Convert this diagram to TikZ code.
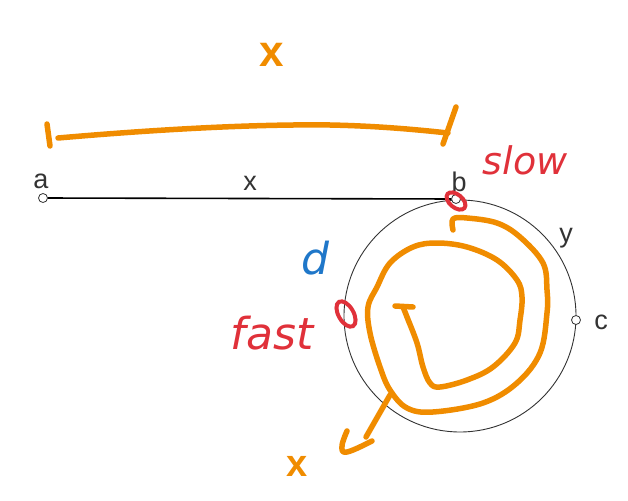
\documentclass[tikz,border=0pt]{standalone}
\usepackage{fontspec}
\setmainfont{Liberation Sans}
\newfontfamily\handfont{DejaVu Sans}
\definecolor{penorange}{HTML}{F08C00}
\definecolor{penred}{HTML}{E0313A}
\definecolor{penblue}{HTML}{1F77C9}
\definecolor{labgray}{HTML}{333333}
\begin{document}
\begin{tikzpicture}[x=1pt,y=-1pt,
  lab/.style={text=labgray,font=\fontsize{27}{29}\selectfont,inner sep=0pt},
  pt/.style={circle,draw=labgray,fill=white,line width=0.8pt,minimum size=9pt,inner sep=0pt},
  pen/.style={draw=penorange,line width=5.5pt,line cap=round,line join=round},
  redpen/.style={draw=penred,line width=4pt},
  hand/.style={inner sep=0pt,font=\handfont\itshape\fontsize{38}{40}\selectfont}]
\useasboundingbox (0,0) rectangle (628,500);
% base geometry
\coordinate (o) at (460,316);
\draw[labgray,line width=0.9pt] (o) circle[radius=116];
\node[pt] (a) at (43,198) {};
\node[pt] (b) at (456,199) {};
\node[pt] (c) at (576,320) {};
\draw[black,line width=1.6pt] (a) -- (b);
\node[lab] (la) at (41,181) {a};
\node[lab] (lx) at (250,183) {x};
\node[lab] (lb) at (459,182) {b};
\node[lab] (ly) at (566,238) {y};
\node[lab] (lc) at (601,322) {c};
% orange annotations
\node[text=penorange,font=\bfseries\fontsize{44}{46}\selectfont,inner sep=0pt] (xtop) at (272,55) {x};
\draw[pen] (47,124) -- (50,146);
\draw[pen] (58,138) .. controls (150,130) and (250,124) .. (330,125) .. controls (380,126) and (420,130) .. (448,133);
\draw[pen] (456,107) -- (443,144);
\draw[pen] plot[smooth,tension=0.6] coordinates {(453,230) (453,219) (467,218) (497,223) (520,237) (543,263) (547,290) (547,313) (540,353) (517,383) (483,403) (433,412) (407,408) (390,390) (380,367) (370,333) (368,307) (377,287) (390,263) (413,247) (437,243) (467,247) (497,260) (517,280) (522,297) (520,320) (515,343) (493,367) (467,380) (440,387) (430,383) (423,367) (417,343) (407,317) (403,307)};
\draw[pen] (395,306) -- (413,307);
\draw[pen] (390,395) -- (366,437);
\draw[pen] plot[smooth,tension=0.7] coordinates {(347,431) (342,446) (347,452) (372,441)};
\node[text=penorange,font=\bfseries\fontsize{38}{40}\selectfont,inner sep=0pt] (xbot) at (297,466) {x};
% red and blue handwriting
\node[hand,text=penred] (slow) at (525,160) {slow};
\node[hand,text=penred,font=\handfont\itshape\fontsize{44}{46}\selectfont] (fast) at (272,333) {fast};
\node[hand,text=penblue,font=\handfont\itshape\fontsize{44}{46}\selectfont] (d) at (315,258) {d};
\draw[redpen,rotate around={-40:(456,201)}] (456,201) ellipse[x radius=11,y radius=6.5];
\draw[redpen,rotate around={-60:(346,314)}] (346,314) ellipse[x radius=14,y radius=7.5];
\end{tikzpicture}
\end{document}
